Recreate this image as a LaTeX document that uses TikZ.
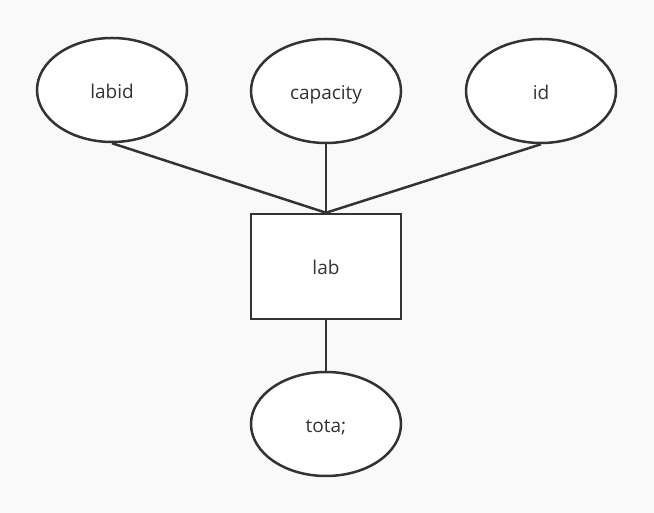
\documentclass[tikz,border=0pt]{standalone}
\usepackage{fontspec}
\setmainfont{Open Sans}
\usetikzlibrary{shapes.geometric}
\definecolor{bg}{HTML}{F9F9F9}
\definecolor{ink}{HTML}{333333}
\begin{document}
\begin{tikzpicture}[x=1pt,y=1pt,
  lbl/.style={font=\fontsize{19}{22}\selectfont,text=ink,text height=17pt,text depth=0pt},
  attr/.style={ellipse,draw=ink,line width=2.5pt,fill=white,minimum width=150pt,minimum height=104pt,inner sep=0pt,lbl},
  ent/.style={rectangle,draw=ink,line width=2.5pt,fill=white,minimum width=150pt,minimum height=105pt,inner sep=0pt,lbl},
  link/.style={draw=ink,line width=2.5pt}]
\fill[bg] (0,0) rectangle (654,513);
\useasboundingbox (0,0) rectangle (654,513);
\node[attr] (labid) at (112,423) {labid};
\node[attr] (capacity) at (326,422) {capacity};
\node[attr] (id) at (541,422) {id};
\node[ent] (lab) at (326,246.5) {lab};
\node[attr] (tota) at (326,89) {tota;};
\draw[link] (labid.south) -- (lab.north);
\draw[link] (capacity.south) -- (lab.north);
\draw[link] (id.south) -- (lab.north);
\draw[link] (lab.south) -- (tota.north);
\end{tikzpicture}
\end{document}
